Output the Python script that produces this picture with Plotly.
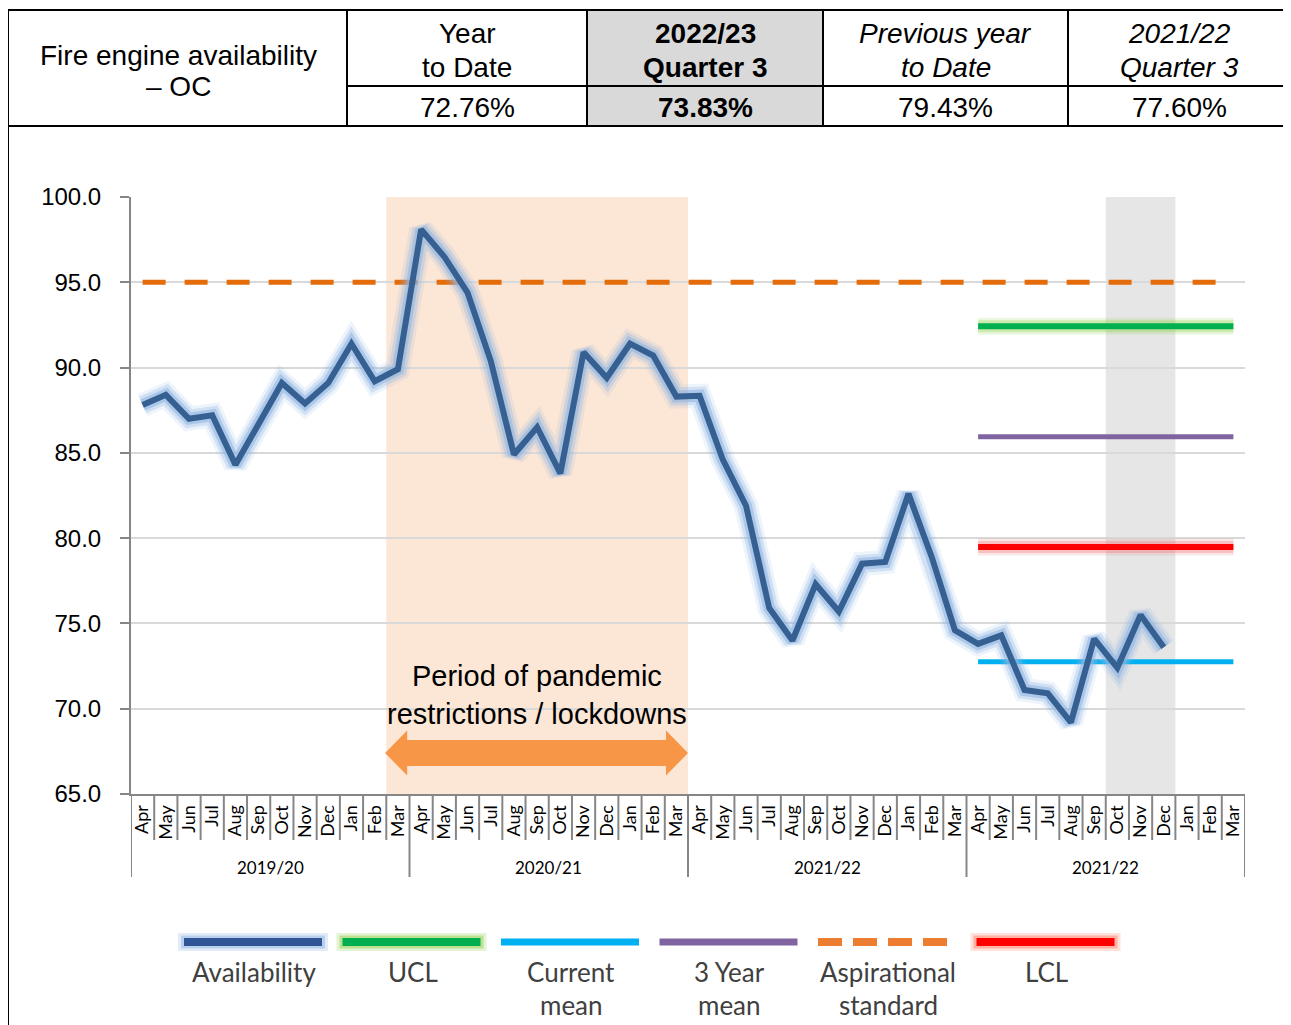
import plotly.graph_objects as go

W, H = 1291, 1025

# ---------------- data ----------------
fiscal_years = ["2019/20", "2020/21", "2021/22", "2021/22"]
months = ["Apr", "May", "Jun", "Jul", "Aug", "Sep", "Oct", "Nov", "Dec", "Jan", "Feb", "Mar"]

availability_2019_20 = [87.8, 88.4, 87.0, 87.2, 84.3, 86.7, 89.1, 87.9, 89.1, 91.4, 89.2, 89.9]
availability_2020_21 = [98.1, 96.5, 94.4, 90.4, 84.9, 86.5, 83.8, 90.9, 89.4, 91.4, 90.7, 88.3]
availability_2021_22 = [88.35, 84.6, 81.9, 75.9, 74.0, 77.3, 75.7, 78.5, 78.6, 82.6, 78.9, 74.6]
availability_2022_23 = [73.8, 74.3, 71.1, 70.9, 69.2, 74.1, 72.4, 75.5, 73.6, None, None, None]

aspirational_standard = 95.0
ucl = 92.42
three_year_mean = 85.95
lcl = 79.48
current_mean = 72.76

table_title = ["Fire engine availability", "– OC"]
table_headers = [["Year", "to Date"], ["2022/23", "Quarter 3"],
                 ["Previous year", "to Date"], ["2021/22", "Quarter 3"]]
table_values = ["72.76%", "73.83%", "79.43%", "77.60%"]

legend_labels = [["Availability"], ["UCL"], ["Current", "mean"], ["3 Year", "mean"],
                 ["Aspirational", "standard"], ["LCL"]]

annotation_text = ["Period of pandemic", "restrictions / lockdowns"]

# ---------------- derived ----------------
availability = availability_2019_20 + availability_2020_21 + availability_2021_22 + availability_2022_23
n = len(fiscal_years) * len(months)
idx = list(range(n))
month_labels = months * len(fiscal_years)
limit_idx = idx[3 * 12:]           # control limits drawn over the latest year
pandemic_x0 = 11 - 0.5              # Mar 2019/20
pandemic_x1 = 23 + 0.5              # Mar 2020/21
quarter_x0 = 36 + months.index("Oct") - 0.5
quarter_x1 = 36 + months.index("Dec") + 0.5

ARIAL = "Liberation Sans, Arial, sans-serif"
CAL = "Lato, Carlito, Calibri, sans-serif"

OFF = 8  # page body margin compensation


def px(x):
    return (x - OFF) / W


def py(y):
    return 1 - (y - OFF) / H


X0, X1 = 131, 1245
Y_TOP, Y_BOT = 197, 794

fig = go.Figure()


def glow_line(x, y, colour, width, glow_rgb, glow_widths, name, dash=None):
    for gw, ga in glow_widths:
        fig.add_trace(go.Scatter(x=x, y=y, mode="lines", hoverinfo="skip",
                                 line=dict(color=f"rgba({glow_rgb},{ga})", width=gw)))
    fig.add_trace(go.Scatter(x=x, y=y, mode="lines", name=name,
                             line=dict(color=colour, width=width, dash=dash)))


# reference lines
fig.add_trace(go.Scatter(x=idx, y=[aspirational_standard] * n, mode="lines",
                         line=dict(color="#E46C0A", width=5, dash="23px,19px"),
                         name="Aspirational standard"))
glow_line(limit_idx, [ucl] * len(limit_idx), "#00B050", 6, "146,208,80",
          [(17, 0.18), (12, 0.35)], "UCL")
fig.add_trace(go.Scatter(x=limit_idx, y=[three_year_mean] * len(limit_idx), mode="lines",
                         line=dict(color="#8064A2", width=5), name="3 Year mean"))
glow_line(limit_idx, [lcl] * len(limit_idx), "#FF0000", 6, "240,120,120",
          [(17, 0.18), (12, 0.35)], "LCL")
fig.add_trace(go.Scatter(x=limit_idx, y=[current_mean] * len(limit_idx), mode="lines",
                         line=dict(color="#00B0F0", width=5), name="Current mean"))
glow_line(idx, availability, "#376092", 6, "141,180,226",
          [(24, 0.15), (18, 0.3), (12, 0.55)], "Availability")

shapes = []
annotations = []

# shaded periods
shapes.append(dict(type="rect", xref="x", yref="y", x0=pandemic_x0, x1=pandemic_x1, y0=65, y1=100,
                   fillcolor="#FCE6D5", line=dict(width=0), layer="below"))
shapes.append(dict(type="rect", xref="x", yref="y", x0=quarter_x0, x1=quarter_x1, y0=65, y1=100,
                   fillcolor="#E6E6E6", line=dict(width=0), layer="below"))

# double arrow
yc, sh, hh, hl = 67.40, 0.765, 1.32, 0.95
ax0, ax1 = pandemic_x0 - 0.05, pandemic_x1
path = (f"M {ax0},{yc} L {ax0+hl},{yc+hh} L {ax0+hl},{yc+sh} L {ax1-hl},{yc+sh} "
        f"L {ax1-hl},{yc+hh} L {ax1},{yc} L {ax1-hl},{yc-hh} L {ax1-hl},{yc-sh} "
        f"L {ax0+hl},{yc-sh} L {ax0+hl},{yc-hh} Z")
shapes.append(dict(type="path", xref="x", yref="y", path=path, fillcolor="#F79646",
                   line=dict(width=0)))
annotations.append(dict(x=(pandemic_x0 + pandemic_x1) / 2, y=70.8, xref="x", yref="y",
                        text="<br>".join(annotation_text), showarrow=False,
                        xanchor="center", yanchor="middle",
                        font=dict(family=ARIAL, size=29, color="black"), align="center"))

# category axis dividers
for i in range(n + 1):
    year_edge = (i % 12 == 0)
    shapes.append(dict(type="line", xref="x", yref="paper", x0=i - 0.5, x1=i - 0.5,
                       y0=py(Y_BOT), y1=py(877 if year_edge else 840),
                       line=dict(color="#868686", width=2)))
for k, fy in enumerate(fiscal_years):
    annotations.append(dict(x=k * 12 + 5.5, y=py(867), xref="x", yref="paper", text=fy,
                            showarrow=False, font=dict(family=CAL, size=17, color="black"),
                            xanchor="center", yanchor="middle"))

# ---------------- table ----------------
LC = "black"
shapes.append(dict(type="rect", xref="paper", yref="paper", x0=px(587), x1=px(823),
                   y0=py(126), y1=py(10), fillcolor="#D9D9D9", line=dict(width=0)))
for (x0, y0, x1, y1) in [(8, 10, W + 20, 10), (8, 126, W + 20, 126), (347, 86, W + 20, 86),
                         (8, 10, 8, H + 20), (347, 10, 347, 126), (587, 10, 587, 126),
                         (823, 10, 823, 126), (1068, 10, 1068, 126)]:
    shapes.append(dict(type="line", xref="paper", yref="paper", x0=px(x0), x1=px(x1),
                       y0=py(y0), y1=py(y1), line=dict(color=LC, width=2)))


def cell_text(x, y, text):
    annotations.append(dict(x=px(x), y=py(y), xref="paper", yref="paper", text=text,
                            showarrow=False, xanchor="center", yanchor="middle",
                            font=dict(family=ARIAL, size=28, color="black")))


cell_text(178, 55, table_title[0])
cell_text(178, 87, table_title[1])
col_x = [467, 705, 946, 1179]
styles = [("", ""), ("<b>", "</b>"), ("<i>", "</i>"), ("<i>", "</i>")]
for c, (hdr, val) in enumerate(zip(table_headers, table_values)):
    o, e = styles[c]
    for j, line in enumerate(hdr):
        cell_text(col_x[c], 33 + 34 * j, f"{o}{line}{e}")
    vo, ve = ("<b>", "</b>") if c == 1 else ("", "")
    cell_text(col_x[c], 108, f"{vo}{val}{ve}")

# ---------------- custom legend ----------------
legend_styles = [
    ("#2F5597", 8, None, "141,180,226"),
    ("#00B050", 8, None, "146,208,80"),
    ("#00B0F0", 7, None, None),
    ("#8064A2", 7, None, None),
    ("#ED7D31", 8, "24px,11px", None),
    ("#FF0000", 8, None, "255,130,110"),
]
for k, (labels, (col, wdt, dash, glow)) in enumerate(zip(legend_labels, legend_styles)):
    cx = 253 + k * 158.5
    if glow:
        for gw, ga, ext in [(18, 0.25, 75), (13, 0.5, 72)]:
            shapes.append(dict(type="line", xref="paper", yref="paper",
                               x0=px(cx - ext), x1=px(cx + ext), y0=py(942), y1=py(942),
                               line=dict(color=f"rgba({glow},{ga})", width=gw)))
    shapes.append(dict(type="line", xref="paper", yref="paper", x0=px(cx - 69), x1=px(cx + 69),
                       y0=py(942), y1=py(942),
                       line=dict(color=col, width=wdt, dash=dash if dash else "solid")))
    for j, t in enumerate(labels):
        annotations.append(dict(x=px(cx + 1), y=py(972 + 33 * j), xref="paper", yref="paper",
                                text=t, showarrow=False, xanchor="center", yanchor="middle",
                                font=dict(family=CAL, size=26, color="#404040")))

fig.update_layout(
    width=W, height=H, margin=dict(l=0, r=0, t=0, b=0, autoexpand=False),
    paper_bgcolor="white", plot_bgcolor="white", showlegend=False,
    shapes=shapes, annotations=annotations,
    xaxis=dict(domain=[px(X0), px(X1)], range=[-0.5, n - 0.5], tickmode="array",
               tickvals=idx, ticktext=month_labels, tickangle=-90, showgrid=False,
               zeroline=False, showline=True, linecolor="#868686", linewidth=2, ticks="",
               automargin=False,
               tickfont=dict(family=CAL, size=18, color="black"), ticklabelstandoff=2),
    yaxis=dict(domain=[py(Y_BOT), py(Y_TOP)], range=[65, 100], dtick=5, tick0=65,
               tickformat=".1f", showgrid=True, gridcolor="#D9D9D9", gridwidth=2,
               zeroline=False, showline=True, linecolor="#868686", linewidth=2,
               ticks="outside", ticklen=9, tickwidth=2, tickcolor="#868686", automargin=False,
               tickfont=dict(family=ARIAL, size=24, color="black"), ticklabelstandoff=14),
)

fig.write_html("out.html")
